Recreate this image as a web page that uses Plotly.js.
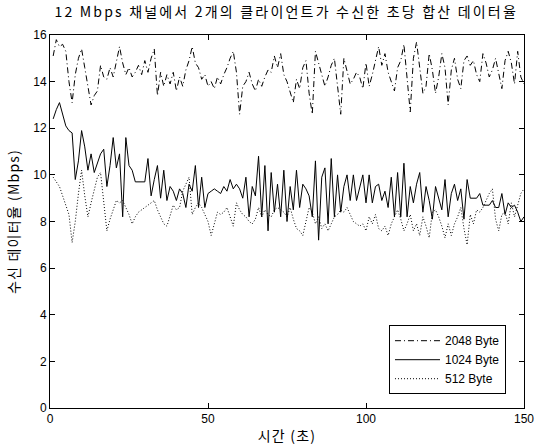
<!DOCTYPE html>
<html>
<head>
<meta charset="utf-8">
<script src="https://cdn.plot.ly/plotly-3.0.1.min.js"></script>
<style>
html,body{margin:0;padding:0;background:#fff;}
#chart{width:535px;height:447px;}
.gtitle{letter-spacing:2.2px;}
.xtitle,.ytitle{letter-spacing:1.2px;}
</style>
</head>
<body>
<div id="chart"></div>
<script>
const seriesNames = ["2048 Byte", "1024 Byte", "512 Byte"];
const titleText = "12 Mbps 채널에서 2개의 클라이언트가 수신한 초당 합산 데이터율";
const xTitle = "시간 (초)";
const yTitle = "수신 데이터율 (Mbps)";
const xTicks = [0, 50, 100, 150];
const yTicks = [0, 2, 4, 6, 8, 10, 12, 14, 16];

const v2048 = [15.1,15.8,15.5,15.6,15.3,14.0,13.1,14.3,15.0,15.4,
14.6,13.8,13.0,13.4,13.6,14.7,14.2,14.1,14.6,14.2,
14.9,15.5,14.8,14.3,14.6,14.2,14.4,14.7,14.3,14.9,
14.4,15.0,15.4,13.4,14.4,13.8,14.3,13.9,14.4,13.6,
14.2,13.8,14.5,14.9,15.5,14.8,14.6,14.1,14.3,13.8,
14.0,13.7,14.2,13.9,14.3,14.6,15.0,15.3,14.4,12.6,
13.8,14.0,14.4,13.9,13.6,14.1,13.8,14.2,14.5,14.4,
15.1,14.6,15.2,14.3,14.0,13.5,13.1,14.1,13.7,14.6,
14.9,13.5,12.6,15.3,14.8,14.4,13.8,14.2,14.7,15.0,
13.9,12.6,15.0,14.5,13.9,14.1,14.4,14.2,13.7,14.8,
13.8,14.3,14.9,15.5,14.7,15.2,14.4,14.0,13.6,14.6,
14.9,15.6,14.2,12.7,15.0,15.7,14.6,13.5,13.8,15.2,
14.5,13.5,14.2,15.2,14.6,13.0,14.5,15.0,14.1,13.7,
14.9,15.1,14.7,14.9,14.3,14.0,15.2,14.8,14.2,14.5,
15.0,14.3,13.7,14.9,15.3,14.8,13.9,15.3,14.2,13.9];

const v1024 = [12.4,12.8,13.1,12.6,12.1,11.9,11.8,9.8,10.6,11.9,
11.2,10.2,10.9,10.1,10.5,10.9,11.1,9.5,10.4,11.6,
10.3,10.9,8.2,11.6,10.4,10.2,9.7,9.7,9.7,9.7,
10.7,9.1,9.8,10.4,9.0,10.2,8.9,9.5,9.3,8.9,
9.4,9.2,8.6,9.6,9.3,10.4,8.6,9.9,8.6,9.2,
9.3,9.4,9.3,9.2,9.5,9.3,9.8,9.4,9.6,9.4,
9.0,9.9,8.2,9.5,9.1,10.8,8.2,10.4,7.6,10.1,
8.4,9.6,8.2,10.2,8.0,9.5,8.5,10.2,8.6,9.6,
9.4,9.1,8.2,10.6,7.2,9.9,10.3,7.9,10.7,8.2,
10.0,8.4,9.5,10.0,8.9,10.0,8.9,9.4,10.0,8.8,
10.0,8.8,9.5,9.6,8.9,9.3,8.6,9.9,8.2,10.1,
8.2,10.5,8.2,9.5,8.8,9.6,10.1,8.4,9.5,8.9,
8.1,9.5,9.0,8.5,9.8,8.2,9.2,9.6,8.9,9.4,
8.1,9.8,9.0,9.0,9.0,9.2,8.7,8.7,8.7,8.9,
8.6,8.6,9.2,8.3,8.8,8.6,8.7,8.4,8.0,8.2];

const v512 = [9.9,9.7,9.5,9.1,8.7,8.3,7.1,8.0,9.2,10.2,
9.1,8.2,8.8,9.3,9.9,10.1,8.9,7.6,8.1,8.5,
8.9,8.8,8.9,8.6,8.3,7.9,8.2,8.4,8.5,8.6,
8.7,8.8,8.9,8.5,8.2,7.9,7.8,8.3,8.7,8.5,
8.6,9.3,9.6,9.9,8.3,8.6,8.8,8.6,8.3,8.0,
7.4,7.9,8.4,8.3,8.4,8.6,8.2,7.8,8.8,8.5,
8.3,8.2,8.0,7.9,8.1,8.6,8.2,8.5,8.3,8.2,
8.5,8.6,8.5,8.4,8.2,8.6,8.1,7.7,7.6,7.4,
8.0,8.6,8.4,7.9,8.2,7.7,7.9,7.6,7.9,8.2,
8.3,8.5,8.4,8.6,8.3,8.0,7.9,7.8,7.9,7.6,
8.2,7.9,8.3,7.7,7.6,7.8,7.4,7.9,8.2,8.5,
8.1,7.6,7.9,8.3,7.6,7.9,7.4,8.2,7.8,7.3,
8.4,8.5,8.2,7.8,7.3,7.9,7.4,7.9,8.2,8.6,
7.7,7.0,8.3,7.9,8.5,8.4,8.6,8.9,9.2,9.4,
8.1,7.6,8.3,8.4,7.9,8.8,8.2,8.7,9.2,9.4];

const tSec = v1024.map((_, i) => i + 1);

const font = "'Liberation Sans', Arial, sans-serif";
const krFont = "'Noto Sans CJK KR', 'Liberation Sans', sans-serif";

const traces = [
  {x: tSec, y: v2048, name: seriesNames[0], mode: "lines", line: {color: "#000", width: 1, dash: "6px,3px,1px,3px"}},
  {x: tSec, y: v1024, name: seriesNames[1], mode: "lines", line: {color: "#000", width: 1, dash: "solid"}},
  {x: tSec, y: v512, name: seriesNames[2], mode: "lines", line: {color: "#000", width: 1, dash: "1px,2px"}}
];

const axisCommon = {
  showline: true, linecolor: "#000", linewidth: 1, mirror: "ticks",
  ticks: "inside", ticklen: 5, tickcolor: "#000", tickwidth: 1,
  showgrid: false, zeroline: false,
  tickfont: {family: font, size: 12, color: "#000"}
};

const layout = {
  width: 535, height: 447,
  margin: {l: 50, r: 11, t: 35, b: 39},
  paper_bgcolor: "#fff", plot_bgcolor: "#fff",
  title: {text: titleText, font: {family: krFont, size: 14, color: "#000"}, x: 0.535, xanchor: "center", y: 0.972, yanchor: "middle"},
  xaxis: Object.assign({}, axisCommon, {
    range: [0, 150], tickvals: xTicks, ticktext: xTicks.map(String),
    title: {text: xTitle, font: {family: krFont, size: 14, color: "#000"}, standoff: 5}
  }),
  yaxis: Object.assign({}, axisCommon, {
    range: [0, 16], tickvals: yTicks, ticktext: yTicks.map(String),
    title: {text: yTitle, font: {family: krFont, size: 14, color: "#000"}, standoff: 10}
  }),
  showlegend: true,
  legend: {
    x: 0.962, y: 0.037, xanchor: "right", yanchor: "bottom",
    bgcolor: "#fff", bordercolor: "#000", borderwidth: 1,
    font: {family: font, size: 12, color: "#000"},
    tracegroupgap: 0, itemwidth: 45
  }
};

Plotly.newPlot("chart", traces, layout, {displayModeBar: false, staticPlot: true});
</script>
</body>
</html>
